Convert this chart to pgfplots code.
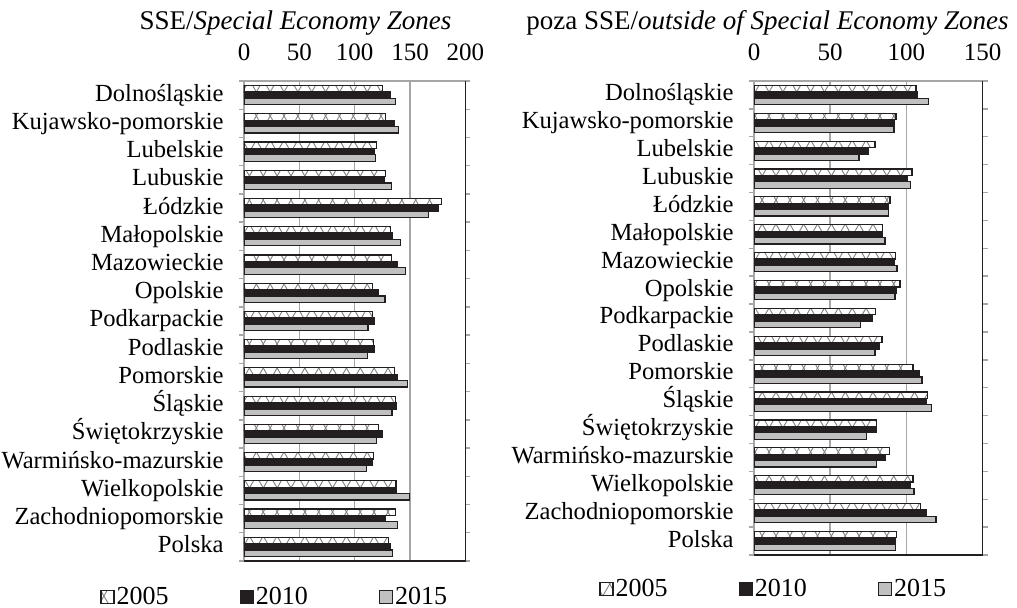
\documentclass[border=0pt]{standalone}
\usepackage{fontspec}
\setmainfont{Liberation Serif}
\usepackage{pgfplots}
\usepackage{pgfplotstable}
\pgfplotsset{compat=1.18}
\usetikzlibrary{patterns,patterns.meta}

\pgfplotstableread{
y a b c
16 125.3 131.9 137.0
15 128.0 136.0 139.8
14 119.9 117.8 118.7
13 128.0 126.5 133.4
12 178.3 175.3 166.9
11 132.2 134.0 141.3
10 133.4 138.3 146.1
9 116.0 121.0 127.4
8 115.7 117.5 112.0
7 117.2 117.5 111.7
6 135.8 138.9 147.9
5 137.0 137.7 133.7
4 121.7 125.0 119.6
3 116.9 116.0 110.8
2 137.3 138.0 149.4
1 136.7 128.0 138.6
0 130.7 132.2 134.3
}\sse

\pgfplotstableread{
y a b c
16 106.4 107.2 114.3
15 93.2 91.9 91.9
14 79.4 75.4 68.9
13 103.7 100.4 102.9
12 89.3 87.9 88.2
11 84.2 84.6 86.0
10 93.0 91.9 93.9
9 95.8 93.6 92.5
8 80.0 77.6 69.7
7 84.0 82.0 79.4
6 104.4 108.8 110.3
5 113.8 113.4 116.4
4 80.5 80.5 74.1
3 88.8 86.4 80.5
2 104.4 102.9 105.0
1 109.4 113.2 119.5
0 93.6 92.8 92.8
}\poza

\definecolor{dk}{RGB}{35,31,32}
\definecolor{lg}{RGB}{192,192,192}
\definecolor{gr}{RGB}{166,166,166}

\pgfplotsset{
  s2005/.style={fill=white, draw=dk, line width=0.6pt,
    postaction={pattern={Lines[angle=60,distance=6pt,line width=0.45pt]}, pattern color=gray},
    postaction={pattern={Lines[angle=-60,distance=6pt,line width=0.45pt]}, pattern color=gray}},
  s2010/.style={fill=dk, draw=dk, line width=0.6pt},
  s2015/.style={fill=lg, draw=dk, line width=0.6pt},
  mybase/.style={
    scale only axis, xbar,
    bar width=3.2pt,
    ymin=-0.5, ymax=16.5,
    ytick={0,...,16},
    yticklabels={Polska,Zachodniopomorskie,Wielkopolskie,Warmińsko-mazurskie,Świętokrzyskie,Śląskie,Pomorskie,Podlaskie,Podkarpackie,Opolskie,Mazowieckie,Małopolskie,Łódzkie,Lubuskie,Lubelskie,Kujawsko-pomorskie,Dolnośląskie},
    minor ytick={-0.5,0.5,...,16.5},
    major tick length=0pt, minor tick length=2.5pt, tick align=outside,
    xticklabel pos=upper,
    xmajorgrids,
    grid style={gr, line width=0.7pt},
    axis line style={gr, line width=0.7pt},
    tick style={gr, line width=0.7pt},
    xtick style={draw=none},
    /pgf/number format/assume math mode=true,
    tick label style={font=\fontsize{12.5}{14}\selectfont},
    yticklabel style={anchor=east, inner sep=0pt, xshift=-10pt,
      font=\fontsize{12.3}{14}\selectfont, text height=1.6ex, text depth=0.3ex},
    xticklabel style={anchor=base, inner sep=0pt, yshift=10.25pt},
    title style={anchor=base, font=\fontsize{13.5}{16}\selectfont},
    legend columns=3,
    legend image code/.code={\draw[#1] (0pt,-3.25pt) rectangle (6.5pt,3.25pt);},
    legend style={draw=none, fill=none, inner sep=0pt, anchor=west,
      font=\fontsize{13}{15}\selectfont,
      nodes={inner sep=1pt},
      /tikz/every even column/.append style={column sep=34.5pt}},
    after end axis/.code={\draw[dk, line width=0.7pt] (rel axis cs:1,1) -- (rel axis cs:1,0) -- (rel axis cs:0,0);},
  }
}

\begin{document}
\begin{tikzpicture}
\useasboundingbox (0pt,0pt) rectangle (508.5pt,-304pt);
\begin{axis}[mybase,
  at={(122pt,-280.5pt)}, anchor=south west,
  width=110.75pt, height=240pt,
  xmin=0, xmax=200, xtick={0,50,100,150,200},
  title={SSE/\textit{Special Economy Zones}},
  title style={at={(0.2325,1)}, yshift=19.5pt},
  legend style={at={(-0.650,-0.075)}},
]
\addplot[s2005, bar shift=3.2pt] table[x=a, y=y] {\sse};
\addplot[s2010, bar shift=0pt] table[x=b, y=y] {\sse};
\addplot[s2015, bar shift=-3.2pt] table[x=c, y=y] {\sse};
\legend{2005,2010,2015}
\end{axis}
\begin{axis}[mybase,
  at={(377pt,-277.5pt)}, anchor=south west,
  width=114.25pt, height=237pt,
  xmin=0, xmax=150, xtick={0,50,100,150},
  title={poza SSE/\textit{outside of Special Economy Zones}},
  title style={at={(0.059,1)}, yshift=19.5pt},
  legend style={at={(-0.678,-0.0717)}},
]
\addplot[s2005, bar shift=3.2pt] table[x=a, y=y] {\poza};
\addplot[s2010, bar shift=0pt] table[x=b, y=y] {\poza};
\addplot[s2015, bar shift=-3.2pt] table[x=c, y=y] {\poza};
\legend{2005,2010,2015}
\end{axis}
\end{tikzpicture}
\end{document}
